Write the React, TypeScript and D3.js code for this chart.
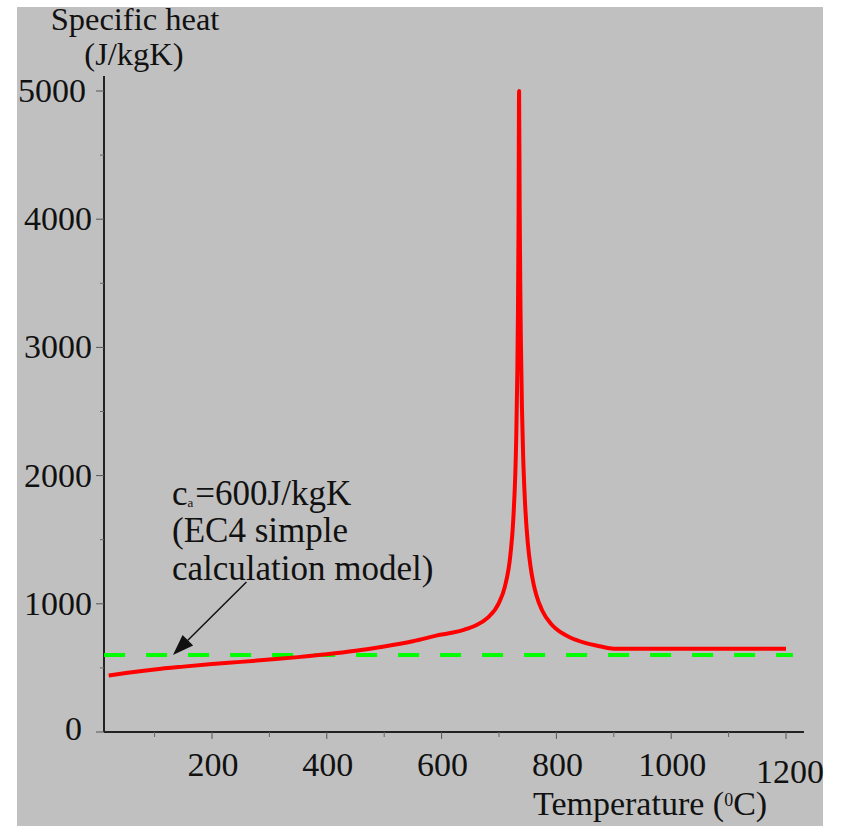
import React from "react";
import * as d3 from "d3";

// Specific heat of steel (J/kgK) vs temperature (°C)
const temps = [20, 50, 100, 150, 200, 250, 300, 350, 400, 450, 500, 550, 600, 620, 640, 660, 680, 700, 710, 720, 725, 730, 732, 733, 734, 735, 736, 737, 738, 740, 742, 745, 750, 755, 760, 765, 775, 790, 800, 825, 850, 875, 900, 1000, 1100, 1200];
const heat = [440, 460, 488, 510, 530, 547, 565, 584, 606, 633, 667, 708, 760, 776, 799, 833, 890, 1008, 1130, 1388, 1666, 2291, 2833, 3266, 3916, 5000, 4109, 3515, 3091, 2525, 2165, 1818, 1483, 1288, 1160, 1069, 950, 847, 803, 735, 695, 669, 650, 650, 650, 650];

// EC4 simple calculation model constant
const ecTemps = [12, 1212];
const ecValue = 600;

const xMajorTicks = [200, 400, 600, 800, 1000, 1200];
const xMinorTicks = [100, 300, 500, 700, 900, 1100];
const yMajorTicks = [0, 1000, 2000, 3000, 4000, 5000];
const yMinorTicks = [500, 1500, 2500, 3500, 4500];

const arrowFrom = [260, 1170];
const arrowTo = [132, 600];

export default function App() {
  const W = 841, H = 826;
  const x = d3.scaleLinear().domain([0, 1200]).range([97.2, 786]);
  const y = d3.scaleLinear().domain([0, 5000]).range([732, 91]);
  const serif = "'Liberation Serif', 'Times New Roman', serif";

  const pts = temps.map((t, i) => [t, heat[i]] as [number, number]);
  const line = d3
    .line<[number, number]>()
    .x((d) => x(d[0]))
    .y((d) => y(d[1]))
    .curve(d3.curveMonotoneX);

  const axX0 = 104, axX1 = 804, axY0 = 732, axYTop = 76;

  // arrow
  const ax1 = x(arrowFrom[0]), ay1 = y(arrowFrom[1]);
  const ax2 = x(arrowTo[0]), ay2 = y(arrowTo[1]);
  const dx = ax2 - ax1, dy = ay2 - ay1;
  const len = Math.hypot(dx, dy);
  const ux = dx / len, uy = dy / len;
  const hl = 21, hw = 7.5;
  const bx = ax2 - hl * ux, by = ay2 - hl * uy;
  const head = `${ax2},${ay2} ${bx - hw * uy},${by + hw * ux} ${bx + hw * uy},${by - hw * ux}`;

  return (
    <svg width={W} height={H} style={{ position: "absolute", left: 0, top: 0 }} fontFamily={serif}>
      <rect x={0} y={0} width={W} height={H} fill="#ffffff" />
      <rect x={17} y={7} width={806} height={819} fill="#c0c0c0" />

      {/* axes */}
      <line x1={axX0} y1={axY0} x2={axX1} y2={axY0} stroke="#222" strokeWidth={2} />
      <line x1={axX0} y1={axY0} x2={axX0} y2={axYTop} stroke="#222" strokeWidth={2} />

      {xMajorTicks.map((t) => (
        <line key={"xM" + t} x1={x(t)} x2={x(t)} y1={axY0} y2={axY0 + 7} stroke="#555" strokeWidth={1} />
      ))}
      {xMinorTicks.map((t) => (
        <line key={"xm" + t} x1={x(t)} x2={x(t)} y1={axY0} y2={axY0 + 5} stroke="#666" strokeWidth={1} />
      ))}
      {yMajorTicks.map((t) => (
        <line key={"yM" + t} x1={axX0 - 8} x2={axX0} y1={y(t)} y2={y(t)} stroke="#555" strokeWidth={1} />
      ))}
      {yMinorTicks.map((t) => (
        <line key={"ym" + t} x1={axX0 - 4} x2={axX0} y1={y(t)} y2={y(t)} stroke="#666" strokeWidth={1} />
      ))}

      {xMajorTicks.map((t, i) => (
        <text
          key={"xl" + t}
          x={x(t) + (i === xMajorTicks.length - 1 ? 4 : 1)}
          y={i === xMajorTicks.length - 1 ? 783 : 776}
          textAnchor="middle"
          fontSize={34}
          fill="#111"
        >
          {t}
        </text>
      ))}
      {yMajorTicks.map((t) => (
        <text
          key={"yl" + t}
          x={t === 0 ? 82 : t === 5000 ? 86 : 92}
          y={y(t) + (t === 0 ? 8 : 11)}
          textAnchor="end"
          fontSize={34}
          fill="#111"
        >
          {t}
        </text>
      ))}

      {/* axis titles */}
      <text x={135} y={30} textAnchor="middle" fontSize={32.5} fill="#111">Specific heat</text>
      <text x={134} y={65} textAnchor="middle" fontSize={32.5} fill="#111">(J/kgK)</text>
      <text x={533} y={815} fontSize={34} fill="#111">
        Temperature (
        <tspan fontSize={18} dy={-9}>0</tspan>
        <tspan dy={9}>C)</tspan>
      </text>

      {/* EC4 constant */}
      <line
        x1={x(ecTemps[0])}
        x2={x(ecTemps[1])}
        y1={y(ecValue)}
        y2={y(ecValue)}
        stroke="#00ff00"
        strokeWidth={4}
        strokeDasharray="21,21"
      />

      {/* specific heat curve */}
      <path d={line(pts) || ""} fill="none" stroke="#ff0000" strokeWidth={4} strokeLinejoin="round" />

      {/* annotation */}
      <text x={172} y={505} fontSize={35} fill="#111">
        c<tspan fontSize={13} dy={2}>a</tspan>
        <tspan dy={-2} dx={2}>=600J/kgK</tspan>
      </text>
      <text x={172} y={542} fontSize={35} fill="#111">(EC4 simple</text>
      <text x={172} y={580} fontSize={35} fill="#111">calculation model)</text>
      <line x1={ax1} y1={ay1} x2={bx} y2={by} stroke="#111" strokeWidth={1.5} />
      <polygon points={head} fill="#111" />
    </svg>
  );
}
